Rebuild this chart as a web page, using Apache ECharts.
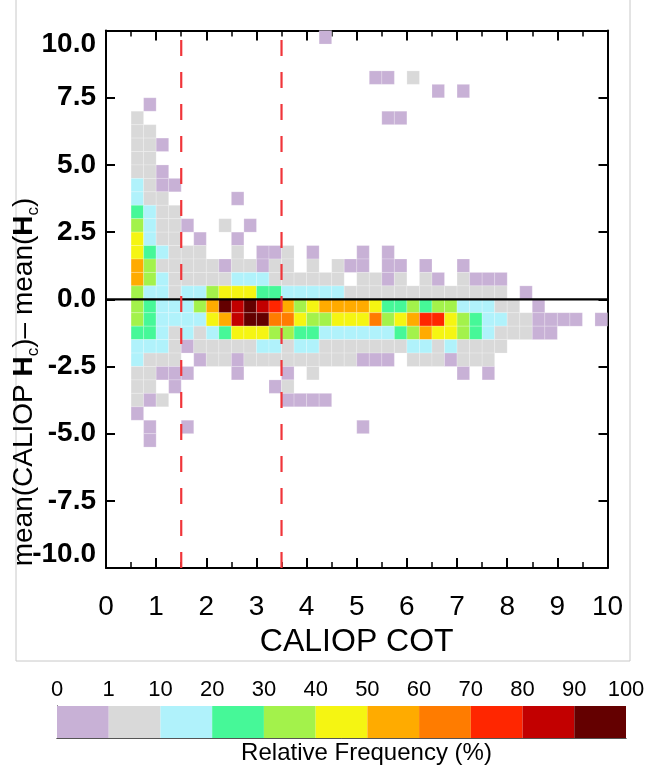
<!DOCTYPE html>
<html><head><meta charset="utf-8">
<script src="https://cdn.jsdelivr.net/npm/echarts@6/dist/echarts.min.js"></script>
<style>html,body{margin:0;padding:0;background:#fff}#c{width:647px;height:766px}</style>
</head><body><div id="c"></div>
<script>
// ---- bin geometry (x bins start at 0.5, width 0.25; y bins width 0.5) ----
const xFirstBin = 0.5, xBinWidth = 0.25, yBinHeight = 0.5;

// ---- relative frequency (%) per y bin, columns = x bins 0.5, 0.75, 1.0, ... ----
// 0 = empty cell
const f_p9_5 = [0,0,0,0,0,0,0,0,0,0, 0,0,0,0,0,.5];
const f_p8_0 = [0,0,0,0,0,0,0,0,0,0, 0,0,0,0,0,0,0,0,0,.5, .5,0,5];
const f_p7_5 = [0,0,0,0,0,0,0,0,0,0, 0,0,0,0,0,0,0,0,0,0, 0,0,0,0,.5,0,.5];
const f_p7_0 = [0,.5];
const f_p6_5 = [5,0,0,0,0,0,0,0,0,0, 0,0,0,0,0,0,0,0,0,0, .5,.5];
const f_p6_0 = [5,5];
const f_p5_5 = [5,5,.5];
const f_p5_0 = [5,5];
const f_p4_5 = [5,5,.5];
const f_p4_0 = [15,5,.5,.5];
const f_p3_5 = [15,5,5,0,0,0,0,0,.5];
const f_p3_0 = [25,15,5,5];
const f_p2_5 = [35,15,5,5,.5,0,0,5,0,.5];
const f_p2_0 = [45,15,5,5,0,.5,0,0,.5];
const f_p1_5 = [45,25,15,5,5,5,0,0,5,0, .5,.5,5,0,.5,0,0,0,.5,0, .5];
const f_p1_0 = [55,35,5,5,5,5,5,.5,5,5, .5,5,5,0,5,0,5,.5,.5,0, .5,.5,0,.5,0,0,.5];
const f_p0_5 = [55,35,15,5,5,5,5,5,15,15, 15,5,5,5,5,5,5,0,5,5, .5,5,0,5,.5,0,5,.5,.5,.5];
const f_p0_0 = [35,15,15,5,15,15,35,45,45,45, 25,25,15,15,15,15,15,5,5,5, 5,5,5,5,5,5,5,5,5,5, 0,.5];
const f_m0_5 = [35,25,15,15,15,35,55,95,85,95, 85,75,55,35,45,55,55,55,55,45, 25,25,35,25,35,35,15,15,15,5, 5,0,.5];
const f_m1_0 = [35,25,15,15,15,15,45,55,85,95, 95,65,65,45,35,35,45,45,45,65, 35,45,55,75,75,45,35,25,15,15, 5,5,.5,.5,.5,.5,0,.5];
const f_m1_5 = [25,25,15,5,15,5,15,25,45,45, 45,35,35,25,25,15,15,15,15,15, 15,25,35,55,45,45,35,25,15,5, 5,5,.5,.5];
const f_m2_0 = [15,15,15,5,.5,5,5,5,5,5, 15,15,5,15,15,5,5,5,5,5, 5,5,15,15,5,15,5,5,5,5];
const f_m2_5 = [15,5,5,5,0,.5,5,5,.5,5, 5,5,5,5,5,5,5,5,.5,.5, .5,0,5,5,5,.5,5,5,5];
const f_m3_0 = [5,5,.5,.5,.5,0,0,0,.5,0, 0,0,.5,0,5,0,0,0,0,0, 0,0,0,0,0,0,.5,0,.5];
const f_m3_5 = [5,5,0,.5,0,0,0,0,0,0, 0,.5,5];
const f_m4_0 = [5,.5,5,0,0,0,0,0,0,0, 0,0,.5,.5,.5,.5];
const f_m4_5 = [.5];
const f_m5_0 = [0,.5,0,0,.5,0,0,0,0,0, 0,0,0,0,0,0,0,0,.5];
const f_m5_5 = [0,.5];

const yBinStarts = [9.5, 8.0, 7.5, 7.0, 6.5, 6.0, 5.5, 5.0, 4.5, 4.0, 3.5, 3.0, 2.5, 2.0, 1.5, 1.0, 0.5, 0.0,
  -0.5, -1.0, -1.5, -2.0, -2.5, -3.0, -3.5, -4.0, -4.5, -5.0, -5.5];
const yRows = [f_p9_5, f_p8_0, f_p7_5, f_p7_0, f_p6_5, f_p6_0, f_p5_5, f_p5_0, f_p4_5, f_p4_0, f_p3_5, f_p3_0,
  f_p2_5, f_p2_0, f_p1_5, f_p1_0, f_p0_5, f_p0_0, f_m0_5, f_m1_0, f_m1_5, f_m2_0, f_m2_5, f_m3_0, f_m3_5,
  f_m4_0, f_m4_5, f_m5_0, f_m5_5];

// reference lines
const zeroLineY = 0;
const cutLinesX = [1.5, 3.5];

// colour scale
const cbTickLabels = ['0','1','10','20','30','40','50','60','70','80','90','100'];
const cbEdges = [0, 1, 10, 20, 30, 40, 50, 60, 70, 80, 90, 100];
const cbColors = ['#c8b1d6','#d9d9d9','#b0f2fb','#46f898','#a3f24b','#f5f512','#ffab00','#ff7c00','#ff2600','#c20000','#640000'];
const cbMid = [0.5, 5, 15, 25, 35, 45, 55, 65, 75, 85, 95];

// ---- build data ----
const cells = [];
yRows.forEach((row, i) => {
  row.forEach((v, c) => {
    if (v > 0) cells.push([xFirstBin + c * xBinWidth, yBinStarts[i], v]);
  });
});
const cbData = cbMid.map((v, i) => [i, 0, v]);

const FONT = 'Liberation Sans, Arial, Helvetica, sans-serif';
const chart = echarts.init(document.getElementById('c'), null, {renderer: 'canvas'});

const pieces = cbColors.map((col, i) => ({gte: cbEdges[i], lt: cbEdges[i + 1], color: col}));
pieces[pieces.length - 1].lte = 100; delete pieces[pieces.length - 1].lt;

chart.setOption({
  animation: false,
  backgroundColor: '#fff',
  grid: [
    {left: 106, right: 39.5, top: 30.6, height: 537.4, outerBoundsMode: 'none', containLabel: false},
    {left: 57, right: 21, top: 706, height: 32, outerBoundsMode: 'none', containLabel: false}
  ],
  visualMap: [{type: 'piecewise', show: false, dimension: 2, seriesIndex: [0, 3], pieces: pieces}],
  xAxis: [
    {type: 'value', gridIndex: 0, position: 'bottom', min: 0, max: 10, interval: 1,
      axisLine: {show: true, onZero: false, lineStyle: {color: '#000', width: 2}},
      axisTick: {show: true, inside: true, length: 10, lineStyle: {color: '#000', width: 2}},
      minorTick: {show: true, splitNumber: 2, length: 6, lineStyle: {color: '#000', width: 1.5}},
      splitLine: {show: false},
      axisLabel: {fontSize: 28, color: '#000', fontFamily: FONT, margin: 25},
      name: 'CALIOP COT', nameLocation: 'middle', nameGap: 51,
      nameTextStyle: {fontSize: 32, color: '#000', fontFamily: FONT}},
    {type: 'value', gridIndex: 0, position: 'top', min: 0, max: 10, interval: 1,
      axisLine: {show: true, onZero: false, lineStyle: {color: '#000', width: 2}},
      axisTick: {show: true, inside: true, length: 10, lineStyle: {color: '#000', width: 2}},
      minorTick: {show: true, splitNumber: 2, length: 6, lineStyle: {color: '#000', width: 1.5}},
      splitLine: {show: false}, axisLabel: {show: false}},
    {type: 'value', gridIndex: 1, position: 'top', min: 0, max: 11, interval: 1,
      axisLine: {show: true, lineStyle: {color: '#555', width: 1}},
      axisTick: {show: false}, splitLine: {show: false},
      axisLabel: {fontSize: 22, color: '#000', fontFamily: FONT, margin: 5,
        formatter: v => cbTickLabels[Math.round(v)]}},
    {type: 'value', gridIndex: 1, position: 'bottom', min: 0, max: 11, interval: 1,
      axisLine: {show: true, lineStyle: {color: '#555', width: 1}},
      axisTick: {show: false}, splitLine: {show: false}, axisLabel: {show: false},
      name: 'Relative Frequency (%)', nameLocation: 'middle', nameGap: 3,
      nameTextStyle: {fontSize: 24, color: '#000', fontFamily: FONT, verticalAlign: 'top', padding: [0, 0, 0, 50]}}
  ],
  yAxis: [
    {type: 'value', gridIndex: 0, position: 'left', min: -10, max: 10, interval: 2.5,
      axisLine: {show: true, onZero: false, lineStyle: {color: '#000', width: 2}},
      axisTick: {show: true, inside: true, length: 9, lineStyle: {color: '#000', width: 2}},
      splitLine: {show: false},
      axisLabel: {fontSize: 28, fontWeight: 'bold', color: '#000', fontFamily: FONT, margin: 10,
        formatter: v => v.toFixed(1),
        verticalAlignMaxLabel: 'top', verticalAlignMinLabel: 'bottom'}},
    {type: 'value', gridIndex: 0, position: 'right', min: -10, max: 10, interval: 2.5,
      axisLine: {show: true, onZero: false, lineStyle: {color: '#000', width: 2}},
      axisTick: {show: true, inside: true, length: 9, lineStyle: {color: '#000', width: 2}},
      splitLine: {show: false}, axisLabel: {show: false}},
    {type: 'value', gridIndex: 1, position: 'left', min: 0, max: 1,
      axisLine: {show: true, lineStyle: {color: '#555', width: 1}},
      axisTick: {show: false}, axisLabel: {show: false}, splitLine: {show: false}},
    {type: 'value', gridIndex: 1, position: 'right', min: 0, max: 1,
      axisLine: {show: true, lineStyle: {color: '#555', width: 1}},
      axisTick: {show: false}, axisLabel: {show: false}, splitLine: {show: false}}
  ],
  series: [
    {type: 'custom', xAxisIndex: 0, yAxisIndex: 0, data: cells, encode: {x: 0, y: 1}, z: 2,
      renderItem: (params, api) => {
        const x0 = api.value(0), y0 = api.value(1);
        const p1 = api.coord([x0, y0 + yBinHeight]);
        const p2 = api.coord([x0 + xBinWidth, y0]);
        return {type: 'rect', shape: {x: p1[0], y: p1[1], width: p2[0] - p1[0], height: p2[1] - p1[1]},
          style: {fill: api.visual('color'), stroke: 'rgba(255,255,255,0.35)', lineWidth: 0.6}};
      }},
    {type: 'line', xAxisIndex: 0, yAxisIndex: 0, data: [[0, zeroLineY], [10, zeroLineY]], symbol: 'none', z: 3,
      lineStyle: {color: '#000', width: 2.2}, silent: true},
    {type: 'line', xAxisIndex: 0, yAxisIndex: 0, symbol: 'none', z: 4, silent: true,
      data: [[cutLinesX[0], -10], [cutLinesX[0], 10], null, [cutLinesX[1], -10], [cutLinesX[1], 10]],
      connectNulls: false,
      lineStyle: {color: '#f0353a', width: 2.2, type: [16, 16]}},
    {type: 'custom', xAxisIndex: 2, yAxisIndex: 2, data: cbData, encode: {x: 0, y: 1}, z: 2,
      renderItem: (params, api) => {
        const i = api.value(0);
        const p1 = api.coord([i, 1]);
        const p2 = api.coord([i + 1, 0]);
        return {type: 'rect', shape: {x: p1[0], y: p1[1], width: p2[0] - p1[0], height: p2[1] - p1[1]},
          style: {fill: api.visual('color')}};
      }}
  ],
  graphic: [
    {type: 'rect', shape: {x: 16, y: -2, width: 614, height: 663}, z: 0,
      style: {fill: 'none', stroke: '#c8c8c8', lineWidth: 1}, silent: true},
    {type: 'text', x: 24, y: 382, rotation: Math.PI / 2, z: 10, silent: true,
      style: {
        text: '{n|mean(CALIOP }{b|H}{s|c}{n|)– mean(}{b|H}{s|c}{n|)}',
        align: 'center', verticalAlign: 'middle',
        rich: {
          n: {fontSize: 28, fontFamily: FONT, fill: '#000', lineHeight: 36, verticalAlign: 'middle'},
          b: {fontSize: 28, fontFamily: FONT, fontWeight: 'bold', fill: '#000', lineHeight: 36, verticalAlign: 'middle'},
          s: {fontSize: 17, fontFamily: FONT, fill: '#000', lineHeight: 17, verticalAlign: 'bottom'}
        }
      }}
  ]
});
</script>
</body></html>
